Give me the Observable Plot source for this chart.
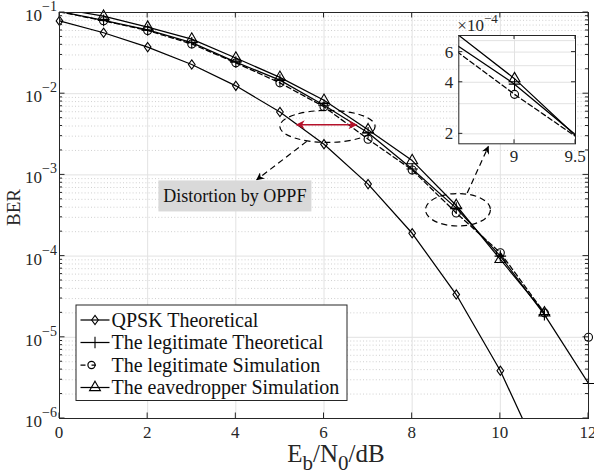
<!DOCTYPE html>
<html><head><meta charset="utf-8">
<script src="https://cdn.jsdelivr.net/npm/d3@7"></script>
<script src="https://cdn.jsdelivr.net/npm/@observablehq/plot@0.6"></script>
<style>body{margin:0;background:#fff}#chart>svg{display:block}</style>
</head><body><div id="chart"></div>
<script>
// ---------- data ----------
const ebn0 = [0,1,2,3,4,5,6,7,8,9,10,11,12];
const qpskTheory  = [0.0788,0.0563,0.0375,0.0229,0.0125,0.00595,0.00239,0.00077,0.000191,0.0000336,0.00000387,0.00000026,0.000000009];
const legitTheory = [0.103,0.080,0.061,0.0425,0.0245,0.0147,0.0072,0.0033,0.00118,0.00039,0.000100,0.000019,0.0000027];
const legitSim    = [0.102,0.079,0.060,0.041,0.024,0.0136,0.0069,0.00275,0.00115,0.00034,0.000110,0.000020,0.000010];
const legitSimLineLast = 11;  // simulated curve drawn up to 11 dB, 12 dB point is an isolated marker
const eveSim      = [0.112,0.090,0.066,0.047,0.0275,0.0159,0.0083,0.0036,0.0015,0.00042,0.000091,0.000020];
const xTicks = [0,2,4,6,8,10,12];
const yTickExponents = [-6,-5,-4,-3,-2,-1];
const legendLabels = ["QPSK Theoretical","The legitimate Theoretical","The legitimate Simulation","The eavedropper Simulation"];
const xLabelParts = [["E",""],["b","sub"],["/N",""],["0","sub"],["/dB",""]];
const yLabel = "BER";
const insetXDomain = [8.543, 9.5];
const insetYDomain = [1.75e-4, 7.5e-4];
const insetXTicks = [9, 9.5];
const insetXTickLabels = ["9","9.5"];
const insetYTicks = [2e-4, 4e-4, 6e-4];
const insetYTickLabels = ["2","4","6"];
const insetYGrid = [2e-4,3e-4,4e-4,5e-4,6e-4,7e-4];
const insetExponent = "\u22124";
const noteText = "Distortion by OPPF";
// annotations in data units (x: dB, y: BER, radii: dB / decades)
const ellipseA = {cx: 6.09, cy: 3.9e-3, rx: 1.08, ry: 0.197};
const ellipseB = {cx: 9.05, cy: 3.67e-4, rx: 0.737, ry: 0.2};
const redArrow = {x1: 5.39, x2: 6.75, y: 4.09e-3};
const arrowA = {x1: 5.62, y1: 2.55e-3, x2: 4.485, y2: 8.6e-4};
const arrowB = {x1: 9.26, y1: 5.9e-4, x2: 9.74, y2: 2.21e-3};
const noteAt = {x: 3.99, y: 5.43e-4};

// ---------- helpers ----------
const rows = ys => ys.map((y,i)=>({x: ebn0[i], y})).filter(d => d.y != null);
const qRows = rows(qpskTheory), ltRows = rows(legitTheory), lsRows = rows(legitSim), evRows = rows(eveSim);
const lsLineRows = lsRows.filter(d => d.x <= legitSimLineLast);
const inMain = d => d.y <= 0.1 && d.y >= 1e-6;
const FONT = "'Liberation Serif', 'Times New Roman', serif";
const tallDiamond = {draw(ctx, size){ const h = Math.sqrt(size)*0.62, w = h*0.72; ctx.moveTo(0,-h); ctx.lineTo(w,0); ctx.lineTo(0,h); ctx.lineTo(-w,0); ctx.closePath(); }};
const LW = 1.25;
const dotOpts = {x:"x", y:"y", stroke:"black", fill:"none", strokeWidth:1.1};

const decades = yTickExponents.map(e => Math.pow(10,e));
const minors = [];
for (const d of decades.slice(0,-1)) for (let k=2;k<=9;k++) minors.push(d*k);

// ---------- main plot ----------
const main = Plot.plot({
  width: 594, height: 474,
  marginLeft: 59, marginRight: 6, marginTop: 12, marginBottom: 56,
  style: {fontFamily: FONT, background: "white"},
  x: {domain: [0,12], axis: null},
  y: {type: "log", domain: [1e-6, 1e-1], axis: null},
  marks: [
    Plot.ruleY(minors, {stroke:"#c4c4c4", strokeDasharray:"1,2.2", strokeWidth:0.8}),
    Plot.ruleY(decades, {stroke:"#e2e2e2", strokeWidth:1}),
    Plot.ruleX(xTicks, {stroke:"#e2e2e2", strokeWidth:1}),
    Plot.line(qRows, {x:"x", y:"y", stroke:"black", strokeWidth:LW, clip:true}),
    Plot.line(ltRows, {x:"x", y:"y", stroke:"black", strokeWidth:LW, clip:true}),
    Plot.line(lsLineRows, {x:"x", y:"y", stroke:"black", strokeWidth:LW, strokeDasharray:"5,3", clip:true}),
    Plot.line(evRows, {x:"x", y:"y", stroke:"black", strokeWidth:LW, clip:true}),
    Plot.dot(qRows.filter(inMain), {...dotOpts, symbol: tallDiamond, r: 4.2}),
    Plot.dot(ltRows.filter(inMain), {...dotOpts, symbol: "plus", r: 3.8}),
    Plot.dot(lsRows.filter(inMain), {...dotOpts, symbol: "circle", r: 4}),
    Plot.dot(evRows.filter(inMain), {...dotOpts, symbol: "triangle2", r: 5.2}),
    Plot.frame({stroke:"#262626", strokeWidth:1})
  ]
});
document.getElementById("chart").appendChild(main);

const svg = d3.select(main);
const xs = main.scale("x"), ys = main.scale("y");
const X = v => xs.apply(v), Y = v => ys.apply(v);
const [L, R] = xs.range, [B, T] = ys.range;
const g = svg.append("g").attr("font-family", FONT).attr("fill","#262626").attr("text-anchor","start");

// ticks (inward, both sides)
for (const v of xTicks) {
  g.append("line").attr("x1",X(v)).attr("x2",X(v)).attr("y1",B).attr("y2",B-5.5).attr("stroke","#262626");
  g.append("line").attr("x1",X(v)).attr("x2",X(v)).attr("y1",T).attr("y2",T+5.5).attr("stroke","#262626");
  g.append("text").attr("x",X(v)).attr("y",B+20).attr("text-anchor","middle").attr("font-size",17).text(String(v));
}
for (const v of decades) {
  g.append("line").attr("x1",L).attr("x2",L+5.5).attr("y1",Y(v)).attr("y2",Y(v)).attr("stroke","#262626");
  g.append("line").attr("x1",R).attr("x2",R-5.5).attr("y1",Y(v)).attr("y2",Y(v)).attr("stroke","#262626");
}
for (const v of minors) {
  g.append("line").attr("x1",L).attr("x2",L+3).attr("y1",Y(v)).attr("y2",Y(v)).attr("stroke","#262626");
  g.append("line").attr("x1",R).attr("x2",R-3).attr("y1",Y(v)).attr("y2",Y(v)).attr("stroke","#262626");
}
yTickExponents.forEach((e,i) => {
  const t = g.append("text").attr("x",L-2).attr("y",Y(decades[i])+9).attr("text-anchor","end").attr("font-size",17);
  t.append("tspan").text("10");
  t.append("tspan").attr("dy",-10).attr("font-size",14).text("\u2212"+Math.abs(e));
});

// axis labels
const xl = g.append("text").attr("x",336).attr("y",461.5).attr("text-anchor","middle").attr("font-size",25);
let prevSub = false;
for (const [s, kind] of xLabelParts) {
  const sub = kind === "sub";
  const ts = xl.append("tspan").text(s);
  if (sub) ts.attr("font-size",21).attr("dy", 8.5);
  else if (prevSub) ts.attr("dy",-8.5);
  prevSub = sub;
}
g.append("text").attr("transform","translate(20,207.5) rotate(-90)").attr("text-anchor","middle").attr("font-size",19).text(yLabel);

// ---------- legend ----------
const lg = svg.append("g").attr("font-family", FONT).attr("text-anchor","start");
lg.append("rect").attr("x",76).attr("y",305).attr("width",271).attr("height",95.5).attr("fill","white").attr("stroke","#262626").attr("stroke-width",1);
const symPaths = [tallDiamond, d3.symbolPlus, d3.symbolCircle, d3.symbolTriangle2];
const symSizes = [Math.PI*4.2*4.2, Math.PI*3.8*3.8, Math.PI*3.6*3.6, Math.PI*5.2*5.2];
legendLabels.forEach((lab,i) => {
  const cy = 320 + i*22.5;
  if (i === 2) {
    lg.append("line").attr("x1",80.5).attr("x2",96).attr("y1",cy).attr("y2",cy).attr("stroke","black").attr("stroke-width",LW)
      .attr("stroke-dasharray","5,6,4.5,20");
    lg.append("path").attr("transform",`translate(91.5,${cy})`).attr("d", d3.symbol(symPaths[i], symSizes[i])()).attr("fill","none").attr("stroke","black").attr("stroke-width",1.2);
  } else {
    lg.append("line").attr("x1",80.5).attr("x2",109.5).attr("y1",cy).attr("y2",cy).attr("stroke","black").attr("stroke-width",LW);
    lg.append("path").attr("transform",`translate(95,${cy})`).attr("d", d3.symbol(symPaths[i], symSizes[i])()).attr("fill","none").attr("stroke","black").attr("stroke-width",1.1);
  }
  lg.append("text").attr("x",111.5).attr("y",cy+6.5).attr("text-anchor","start").attr("font-size",20).attr("fill","#111").text(lab);
});

// ---------- annotations ----------
const defs = svg.append("defs");
function marker(id, color, w, h){
  defs.append("marker").attr("id",id).attr("viewBox","0 0 10 10").attr("refX",9).attr("refY",5)
    .attr("markerWidth",w).attr("markerHeight",h).attr("markerUnits","userSpaceOnUse").attr("orient","auto-start-reverse")
    .append("path").attr("d","M0,0 L10,5 L0,10 L3,5 Z").attr("fill",color);
}
marker("headBlack","black",10,8);
marker("headRed","#b5122b",13,9);
const ag = svg.append("g");
for (const e of [ellipseA, ellipseB]) {
  const cx = X(e.cx), cy = Y(e.cy);
  ag.append("ellipse").attr("cx",cx).attr("cy",cy)
    .attr("rx", X(e.cx+e.rx)-cx).attr("ry", cy - Y(e.cy*Math.pow(10,e.ry)))
    .attr("fill","none").attr("stroke","black").attr("stroke-width",1.2).attr("stroke-dasharray","6,4");
}
ag.append("line").attr("x1",X(redArrow.x1)).attr("x2",X(redArrow.x2)).attr("y1",Y(redArrow.y)).attr("y2",Y(redArrow.y))
  .attr("stroke","#b5122b").attr("stroke-width",1.6).attr("marker-start","url(#headRed)").attr("marker-end","url(#headRed)");
for (const a of [arrowA, arrowB]) {
  ag.append("line").attr("x1",X(a.x1)).attr("y1",Y(a.y1)).attr("x2",X(a.x2)).attr("y2",Y(a.y2))
    .attr("stroke","black").attr("stroke-width",1.2).attr("stroke-dasharray","6,4").attr("marker-end","url(#headBlack)");
}
const nx = X(noteAt.x), ny = Y(noteAt.y);
ag.append("rect").attr("x",nx-76.5).attr("y",ny-15.5).attr("width",153).attr("height",31).attr("fill","#d9d9d9");
ag.append("text").attr("x",nx).attr("y",ny+6).attr("text-anchor","middle").attr("font-family",FONT).attr("font-size",18).attr("fill","#111").text(noteText);

// ---------- inset ----------
const INSET = {left: 458.3, top: 35, width: 116.7, height: 108.3};
const inset = Plot.plot({
  width: INSET.width, height: INSET.height, margin: 0,
  style: {fontFamily: FONT},
  x: {domain: insetXDomain, axis: null},
  y: {type: "log", domain: insetYDomain, axis: null},
  marks: [
    Plot.frame({fill: "white"}),
    Plot.ruleY(insetYGrid, {stroke:"#e2e2e2"}),
    Plot.ruleX(insetXTicks.slice(0,1), {stroke:"#e2e2e2"}),
    Plot.line(ltRows, {x:"x", y:"y", stroke:"black", strokeWidth:LW, clip:true}),
    Plot.line(lsLineRows, {x:"x", y:"y", stroke:"black", strokeWidth:LW, strokeDasharray:"5,3", clip:true}),
    Plot.line(evRows, {x:"x", y:"y", stroke:"black", strokeWidth:LW, clip:true}),
    Plot.dot(ltRows, {...dotOpts, symbol: "plus", r: 3.8, clip:true}),
    Plot.dot(lsRows, {...dotOpts, symbol: "circle", r: 4, clip:true}),
    Plot.dot(evRows, {...dotOpts, symbol: "triangle2", r: 5.2, clip:true}),
    Plot.frame({stroke:"#262626", strokeWidth:1})
  ]
});
d3.select(inset).attr("x", INSET.left).attr("y", INSET.top)
  .attr("style", `overflow:visible;width:${INSET.width}px;height:${INSET.height}px;max-width:none`);
main.appendChild(inset);
const ixs = inset.scale("x"), iys = inset.scale("y");
const IX = v => INSET.left + ixs.apply(v), IY = v => INSET.top + iys.apply(v);
const ig = svg.append("g").attr("font-family", FONT).attr("fill","#262626").attr("text-anchor","start");
const iB = INSET.top + INSET.height, iR = INSET.left + INSET.width;
insetXTicks.forEach((v,i) => {
  ig.append("line").attr("x1",IX(v)).attr("x2",IX(v)).attr("y1",iB).attr("y2",iB-4).attr("stroke","#262626");
  ig.append("line").attr("x1",IX(v)).attr("x2",IX(v)).attr("y1",INSET.top).attr("y2",INSET.top+4).attr("stroke","#262626");
  ig.append("text").attr("x",IX(v)).attr("y",iB+19).attr("text-anchor","middle").attr("font-size",17).text(insetXTickLabels[i]);
});
insetYTicks.forEach((v,i) => {
  ig.append("line").attr("x1",INSET.left).attr("x2",INSET.left+4).attr("y1",IY(v)).attr("y2",IY(v)).attr("stroke","#262626");
  ig.append("line").attr("x1",iR).attr("x2",iR-4).attr("y1",IY(v)).attr("y2",IY(v)).attr("stroke","#262626");
  ig.append("text").attr("x",INSET.left-5).attr("y",IY(v)+6).attr("text-anchor","end").attr("font-size",17).text(insetYTickLabels[i]);
});
const ex = ig.append("text").attr("x",INSET.left-1).attr("y",INSET.top-4.5).attr("text-anchor","start").attr("font-size",17);
ex.append("tspan").text("\u00d710");
ex.append("tspan").attr("dy",-8).attr("font-size",13).text(insetExponent);
</script>
</body></html>
